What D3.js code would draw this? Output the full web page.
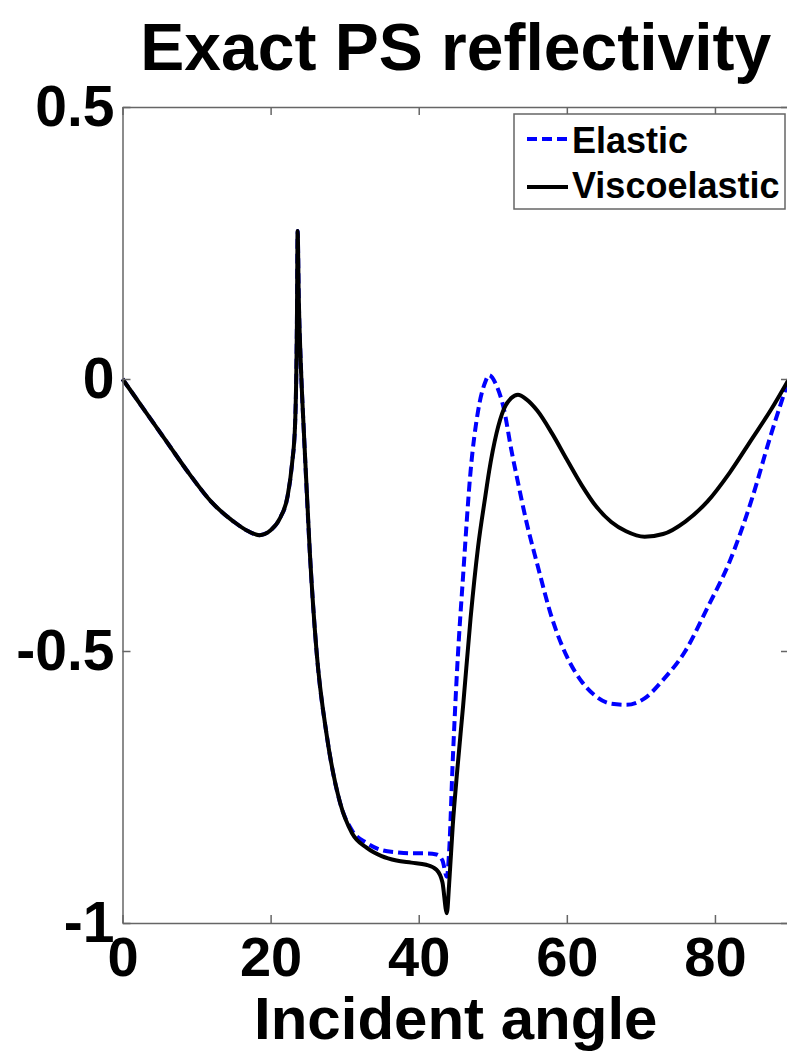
<!DOCTYPE html>
<html>
<head>
<meta charset="utf-8">
<script src="https://cdn.jsdelivr.net/npm/d3@7"></script>
<style>
  html, body { margin: 0; padding: 0; background: #fff; }
  svg { display: block; }
  text { font-family: "Liberation Sans", Arial, Helvetica, sans-serif; font-weight: bold; fill: #000; }
</style>
</head>
<body>
<svg id="chart" width="787" height="1052"></svg>
<script>
// Incident angles (degrees) at which the reflection coefficients are sampled
const angles = [0, 3, 6, 9, 12, 15, 17, 18.5, 20, 21.3, 22.3, 22.9, 23.3, 23.55, 23.65, 23.8, 24.1, 24.5,
  25.3, 26.2, 27.6, 29.4, 31, 33, 35, 37, 39, 41, 42.4, 43.2, 43.8, 44.1, 44.6, 45.2, 46, 47, 48, 49,
  49.5, 50.5, 51.5, 52.5, 53.4, 54.5, 56, 58, 60, 62, 64, 66, 68, 70.5, 73, 76, 79, 82, 85, 87.5, 90];

// PS reflection coefficient, elastic case
const elastic = [0, -0.058, -0.116, -0.174, -0.226, -0.262, -0.28, -0.287, -0.278, -0.255, -0.215, -0.155,
  -0.085, 0.1, 0.272, 0.15, 0.02, -0.1, -0.32, -0.5, -0.657, -0.78, -0.83, -0.853, -0.866, -0.87, -0.872,
  -0.872, -0.874, -0.885, -0.915, -0.87, -0.7, -0.53, -0.36, -0.17, -0.06, -0.005, 0.007, -0.012, -0.055,
  -0.13, -0.19, -0.26, -0.34, -0.44, -0.51, -0.556, -0.584, -0.597, -0.599, -0.587, -0.553, -0.5, -0.42,
  -0.335, -0.22, -0.105, 0];

// PS reflection coefficient, viscoelastic case
const viscoelastic = [0, -0.058, -0.116, -0.174, -0.226, -0.262, -0.28, -0.287, -0.278, -0.255, -0.215,
  -0.155, -0.085, 0.1, 0.272, 0.15, 0.02, -0.1, -0.32, -0.5, -0.657, -0.78, -0.835, -0.862, -0.877, -0.885,
  -0.889, -0.893, -0.902, -0.925, -0.982, -0.93, -0.82, -0.72, -0.6, -0.44, -0.31, -0.215, -0.17, -0.1,
  -0.055, -0.035, -0.029, -0.037, -0.058, -0.1, -0.148, -0.195, -0.235, -0.263, -0.28, -0.29, -0.285,
  -0.262, -0.225, -0.172, -0.11, -0.058, 0];

const xTicks = [0, 20, 40, 60, 80];
const yTicks = [-1, -0.5, 0, 0.5];
const seriesNames = ["Elastic", "Viscoelastic"];

const svg = d3.select("#chart");
const plotLeft = 122.5, plotRight = 789, plotTop = 107, plotBottom = 923;
const axisColor = "#666";

const x = d3.scaleLinear().domain([0, 90]).range([plotLeft, plotRight]);
const y = d3.scaleLinear().domain([-1, 0.5]).range([plotBottom, plotTop]);

// Title
svg.append("text")
  .attr("x", (plotLeft + plotRight) / 2).attr("y", 70)
  .attr("text-anchor", "middle")
  .style("font-size", "66px")
  .text("Exact PS reflectivity");

// Curves
const line = d3.line()
  .x(d => x(d[0]))
  .y(d => y(d[1]))
  .curve(d3.curveMonotoneX);

svg.append("path")
  .datum(angles.map((a, i) => [a, elastic[i]]))
  .attr("d", line)
  .attr("fill", "none")
  .attr("stroke", "#0000ff")
  .attr("stroke-width", 4)
  .attr("stroke-dasharray", "10,5");

svg.append("path")
  .datum(angles.map((a, i) => [a, viscoelastic[i]]))
  .attr("d", line)
  .attr("fill", "none")
  .attr("stroke", "#000")
  .attr("stroke-width", 4)
  .attr("stroke-linejoin", "round");

// Axes box with inward ticks
function styleAxis(g) {
  g.selectAll("path.domain").attr("stroke", axisColor).attr("stroke-width", 1.5);
  g.selectAll(".tick line").attr("stroke", axisColor).attr("stroke-width", 1.5);
}

const fmt = d => String(d);

const gx = svg.append("g")
  .attr("transform", `translate(0,${plotBottom})`)
  .call(d3.axisBottom(x).tickValues(xTicks).tickSize(-8).tickSizeOuter(0).tickPadding(13).tickFormat(fmt));
gx.selectAll("text").style("font-size", "56px").attr("fill", "#000").attr("font-family", null);
styleAxis(gx);

const gxTop = svg.append("g")
  .attr("transform", `translate(0,${plotTop})`)
  .call(d3.axisTop(x).tickValues(xTicks).tickSize(-8).tickSizeOuter(0).tickFormat(""));
styleAxis(gxTop);

const gy = svg.append("g")
  .attr("transform", `translate(${plotLeft},0)`)
  .call(d3.axisLeft(y).tickValues(yTicks).tickSize(-8).tickSizeOuter(0).tickPadding(8).tickFormat(fmt));
gy.selectAll("text").style("font-size", "57px").attr("fill", "#000").attr("font-family", null);
styleAxis(gy);

const gyRight = svg.append("g")
  .attr("transform", `translate(${plotRight},0)`)
  .call(d3.axisRight(y).tickValues(yTicks).tickSize(-8).tickSizeOuter(0).tickFormat(""));
styleAxis(gyRight);

svg.selectAll(".tick text").attr("font-weight", "bold");

// X axis label
svg.append("text")
  .attr("x", (plotLeft + plotRight) / 2).attr("y", 1039)
  .attr("text-anchor", "middle")
  .style("font-size", "60px")
  .text("Incident angle");

// Legend
const legend = svg.append("g");
legend.append("rect")
  .attr("x", 514).attr("y", 114).attr("width", 271).attr("height", 95)
  .attr("fill", "#fff").attr("stroke", axisColor).attr("stroke-width", 1.5);

const legendRows = [
  { name: seriesNames[0], color: "#0000ff", dash: "10,5", yLine: 139, yText: 153 },
  { name: seriesNames[1], color: "#000", dash: null, yLine: 187, yText: 198 }
];
legendRows.forEach(r => {
  legend.append("line")
    .attr("x1", 527).attr("x2", 568).attr("y1", r.yLine).attr("y2", r.yLine)
    .attr("stroke", r.color).attr("stroke-width", 4)
    .attr("stroke-dasharray", r.dash);
  legend.append("text")
    .attr("x", 572).attr("y", r.yText)
    .style("font-size", "36px")
    .text(r.name);
});
</script>
</body>
</html>
